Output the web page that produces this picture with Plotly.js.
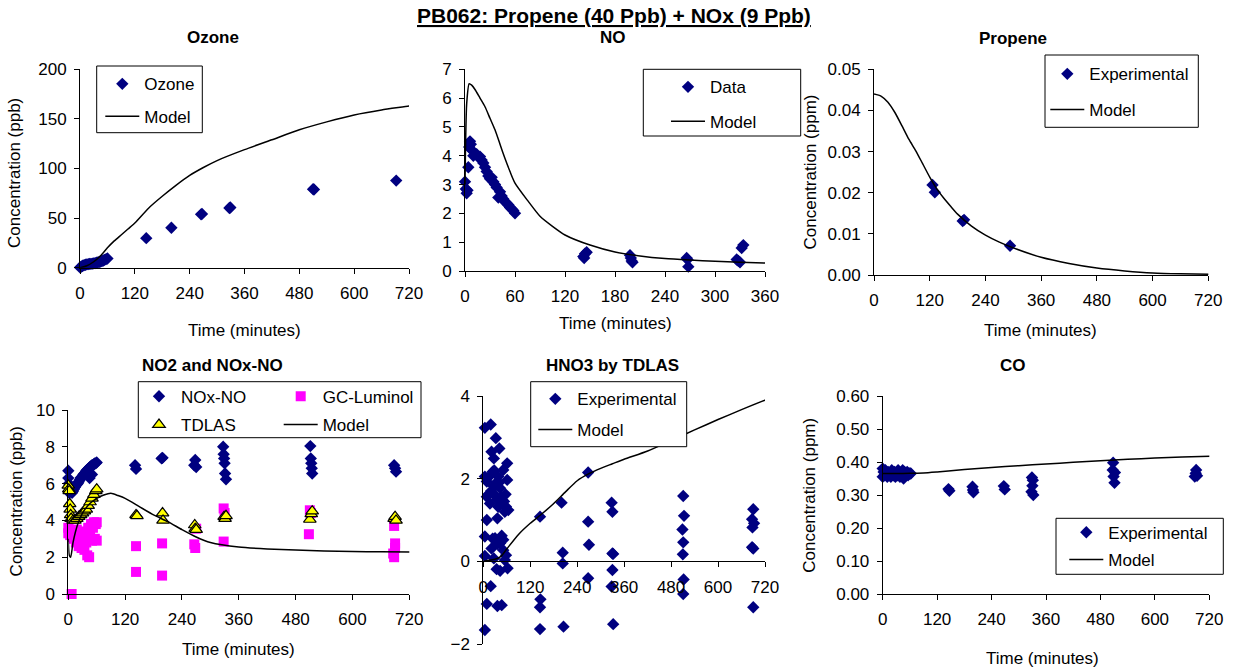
<!DOCTYPE html>
<html><head><meta charset="utf-8">
<script src="https://cdn.plot.ly/plotly-3.0.1.min.js"></script>
<style>html,body{margin:0;padding:0;background:#fff}#chart{width:1234px;height:671px}</style>
</head><body><div id="chart"></div>
<script>
// ---------------- DATA ----------------
const time720Ticks = [0,120,240,360,480,600,720];
const time360Ticks = [0,60,120,180,240,300,360];

// Ozone (ppb)
const ozoneTime  = [0,2,4,6,9,12,15,18,21,24,27,30,33,36,39,42,45,48,51,54,57,60,145,200,265,267,327,329,510,512,692];
const ozoneValue = [0.3,0.8,1.3,2.0,2.6,3.0,3.3,3.6,3.8,3.9,4.1,4.3,4.6,5.0,5.3,5.7,6.2,6.8,7.3,7.9,8.6,9.3,29.8,40.3,53.8,54.2,60.2,60.7,79.2,78.8,87.8];
const ozoneModelTime  = [0,15,30,45,60,75,90,105,120,150,180,210,240,270,300,360,420,480,540,600,660,720,732];
const ozoneModelValue = [0,2,6,12,20,27,33,39,45,60,72,83,93,101,108,119,129,139,147,154,159,163,164];

// NO (ppb)
const noTime  = [0,1,2,3,4,5,6,7,8,10,14,16,18,20,22,24,26,28,30,32,34,36,38,40,42,44,46,48,50,52,54,56,58,60,142,143,144,146,198,199,200,201,266,267,268,326,328,330,332,334];
const noValue = [3.1,2.85,2.7,2.8,3.6,4.3,4.5,4.4,4.2,4.0,4.05,3.95,3.97,3.85,3.75,3.6,3.45,3.3,3.2,3.25,3.1,3.0,2.9,2.55,2.75,2.6,2.5,2.4,2.35,2.3,2.2,2.15,2.1,2.0,0.5,0.45,0.6,0.65,0.55,0.45,0.35,0.3,0.45,0.4,0.15,0.4,0.35,0.3,0.8,0.9];
const noModelTime  = [0,2,5,8,12,18,24,30,36,42,48,54,60,75,90,105,120,150,180,210,240,270,300,330,366];
const noModelValue = [3.0,5.8,6.5,6.45,6.3,6.0,5.7,5.3,4.9,4.4,3.9,3.45,3.05,2.45,1.9,1.55,1.25,0.9,0.66,0.52,0.43,0.38,0.34,0.3,0.27];

// Propene (ppm)
const propeneTime  = [126,131,191,194,293];
const propeneValue = [0.0219,0.0201,0.0131,0.0134,0.0071];
const propeneModelTime  = [0,15,30,45,60,75,90,105,120,135,150,165,180,210,240,270,300,360,420,480,540,600,660,730];
const propeneModelValue = [0.0440,0.0435,0.0420,0.0395,0.0363,0.0330,0.0302,0.0270,0.0238,0.0210,0.0187,0.0167,0.0148,0.0119,0.0097,0.0080,0.0066,0.0043,0.0028,0.0017,0.0010,0.0005,0.0003,0.0002];

// NO2 and NOx-NO (ppb)
const noxNoTime  = [0,0,1,2,4,6,8,10,12,14,16,18,20,22,24,26,28,30,32,34,36,38,40,42,44,45,46,48,50,50,52,54,56,58,60,141,143,197,199,266,268,270,327,328,329,330,331,333,511,512,513,514,515,688,690,692];
const noxNoValue = [6.7,6.3,6.0,5.5,5.6,5.6,5.5,5.6,5.7,5.8,5.9,5.95,6.0,6.1,6.2,6.3,6.35,6.4,6.5,6.55,6.6,6.7,6.75,6.8,6.85,6.3,6.9,6.95,7.0,6.5,7.0,7.05,7.1,7.1,7.15,7.0,6.8,7.37,7.4,7.0,7.28,6.9,8.0,7.6,7.37,7.1,6.55,6.23,8.04,7.37,7.1,6.83,6.55,7.0,6.83,6.65];
const gcLumTime  = [0,0,2,4,6,7,8,10,12,14,16,18,20,22,24,26,28,30,32,34,36,38,40,42,44,46,48,50,52,54,56,58,60,60,143,143,198,198,266,268,270,328,330,328,508,510,512,686,688,688,690,690];
const gcLumValue = [3.6,3.3,3.5,3.2,3.4,0.0,3.1,3.3,3.0,3.2,2.8,3.5,3.0,2.6,3.3,2.9,2.5,3.4,2.7,2.4,3.1,2.8,2.1,3.6,2.0,3.3,3.8,2.9,3.6,3.9,3.0,3.8,3.9,2.9,2.6,1.2,2.75,1.0,2.7,2.5,3.55,4.65,4.4,2.85,3.25,4.55,4.4,2.2,3.7,2.0,2.75,2.5];
const tdlasTime  = [0,1,2,3,4,5,6,10,14,18,22,26,30,34,38,42,46,50,54,58,60,143,145,199,200,267,268,270,329,331,333,510,513,515,688,690,692];
const tdlasValue = [5.9,5.7,5.6,4.9,4.6,4.3,4.1,4.0,4.0,4.1,4.2,4.3,4.4,4.5,4.6,4.8,5.0,5.2,5.4,5.6,5.7,4.3,4.25,4.4,4.0,3.75,3.55,3.5,4.2,4.1,4.25,4.05,4.35,4.5,4.1,4.2,4.0];
const no2ModelTime  = [0,2,5,10,20,30,45,60,75,90,105,120,150,180,210,240,270,300,360,420,480,540,600,660,732];
const no2ModelValue = [3.0,2.1,2.0,2.8,3.8,4.4,4.9,5.2,5.38,5.47,5.35,5.2,4.75,4.3,3.93,3.5,3.1,2.8,2.55,2.45,2.39,2.34,2.31,2.29,2.28];

// HNO3 by TDLAS (ppb)
const hno3Time  = [4,19,32,41,21,27,4,9,24,38,51,61,61,9,17,30,43,38,49,55,64,36,9,4,30,43,51,21,4,27,51,34,43,55,62,19,9,36,47,4,13,26,33,46,57,28,40,15,53,35,20,24,36,47,58,58,
                   145,146,145,145,200,203,203,205,268,268,270,268,328,330,330,332,330,328,332,511,513,509,511,510,512,511,690,687,692,688,687,690,690];
const hno3Value = [3.23,3.31,2.98,2.73,2.65,2.49,2.05,1.93,2.17,2.05,2.21,2.37,1.97,1.56,1.4,1.6,1.77,1.32,1.48,1.2,1.24,1.04,1.0,0.6,0.56,0.44,0.52,0.31,0.13,0.07,0.27,-0.19,-0.23,0.03,-0.17,-0.6,-1.03,-1.08,-1.06,-1.66,1.62,1.82,1.9,1.55,1.62,2.2,1.9,2.05,1.45,1.5,1.7,0.55,0.42,0.62,1.32,0.15,
                   1.08,-0.92,-1.11,-1.64,1.42,0.21,-0.05,-1.58,2.15,0.96,0.4,-0.41,1.42,1.2,0.19,0.18,-0.21,-0.61,-1.52,1.58,1.1,0.77,0.46,0.17,-0.44,-0.79,1.26,1.02,0.92,0.82,0.34,0.31,-1.11];
const hno3ModelTime  = [0,30,45,60,90,120,150,180,210,240,270,300,330,360,420,480,540,600,660,720,735];
const hno3ModelValue = [0,0.05,0.12,0.3,0.65,0.92,1.15,1.4,1.68,1.95,2.12,2.25,2.36,2.47,2.67,2.92,3.18,3.43,3.67,3.9,3.95];

// CO (ppm)
const coTime  = [0,0,2,4,6,8,10,12,14,16,18,20,22,24,26,28,30,32,34,36,38,40,42,44,46,48,50,52,54,56,58,60,62,145,147,198,199,200,267,269,329,331,330,328,332,508,507,512,509,511,691,690,693,688];
const coValue = [0.38,0.355,0.37,0.36,0.375,0.365,0.355,0.37,0.36,0.365,0.355,0.375,0.365,0.36,0.37,0.355,0.365,0.36,0.375,0.37,0.355,0.365,0.36,0.375,0.35,0.37,0.36,0.365,0.37,0.36,0.365,0.365,0.365,0.318,0.313,0.325,0.315,0.308,0.327,0.317,0.353,0.345,0.328,0.31,0.3,0.398,0.376,0.368,0.356,0.337,0.376,0.366,0.358,0.356];
const coModelTime  = [0,30,60,90,120,180,240,300,360,420,480,540,600,660,735];
const coModelValue = [0.365,0.365,0.366,0.367,0.370,0.377,0.383,0.389,0.394,0.399,0.404,0.408,0.412,0.415,0.418];

// ---------------- LAYOUT HELPERS ----------------
const W = 1234, H = 671;
const FONT = 'Liberation Sans, Arial, sans-serif';
const NAVY = '#000080', MAGENTA = '#FF00FF', YELLOW = '#FFFF00';
const px = x => x / W, py = y => 1 - y / H;

function xAxis(x0, x1, range, ticks, anchor) {
  return {domain:[px(x0), px(x1)], range:range, tickmode:'array', tickvals:ticks, ticktext:ticks.map(String),
    showline:true, linecolor:'#000', linewidth:1, ticks:'outside', ticklen:5, tickcolor:'#000',
    showgrid:false, zeroline:false, automargin:false, fixedrange:true, anchor:anchor,
    ticklabelstandoff:5, tickfont:{family:FONT, size:17, color:'#000'}};
}
function yAxis(y0, y1, range, dtick, fmt, anchor) {
  return {domain:[py(y1), py(y0)], range:range, tick0:range[0], dtick:dtick, tickformat:fmt,
    showline:true, linecolor:'#000', linewidth:1, ticks:'outside', ticklen:5, tickcolor:'#000',
    showgrid:false, zeroline:false, automargin:false, fixedrange:true, anchor:anchor,
    ticklabelstandoff:4, tickfont:{family:FONT, size:17, color:'#000'}};
}
function legendAt(textX, rowY) {
  return {x:px(textX - 44), y:py(rowY), xanchor:'left', yanchor:'middle', bgcolor:'rgba(0,0,0,0)',
    borderwidth:0, itemwidth:34, font:{family:FONT, size:17, color:'#000'}};
}
function pts(x, y, xa, ya, name, leg, marker) {
  return {type:'scatter', mode:'markers', x:x, y:y, xaxis:xa, yaxis:ya, name:name, legend:leg,
    showlegend:true, cliponaxis:false, marker:marker, hoverinfo:'x+y'};
}
function model(x, y, xa, ya, leg) {
  return {type:'scatter', mode:'lines', x:x, y:y, xaxis:xa, yaxis:ya, name:'Model', legend:leg,
    showlegend:true, cliponaxis:false, line:{color:'#000', width:1.5, shape:'spline', smoothing:0.6}, hoverinfo:'x+y'};
}
const diamond = {symbol:'diamond', size:9.5, color:NAVY, line:{width:0}};
const square = {symbol:'square', size:10, color:MAGENTA, line:{width:0}};
const triangle = {symbol:'triangle-up', size:11, color:YELLOW, line:{width:1.2, color:'#000'}};

const traces = [
  pts(ozoneTime, ozoneValue, 'x', 'y', 'Ozone', 'legend', diamond),
  model(ozoneModelTime, ozoneModelValue, 'x', 'y', 'legend2'),
  pts(noTime, noValue, 'x2', 'y2', 'Data', 'legend3', diamond),
  model(noModelTime, noModelValue, 'x2', 'y2', 'legend4'),
  pts(propeneTime, propeneValue, 'x3', 'y3', 'Experimental', 'legend5', diamond),
  model(propeneModelTime, propeneModelValue, 'x3', 'y3', 'legend6'),
  pts(noxNoTime, noxNoValue, 'x4', 'y4', 'NOx-NO', 'legend7', diamond),
  pts(gcLumTime, gcLumValue, 'x4', 'y4', 'GC-Luminol', 'legend8', square),
  pts(tdlasTime, tdlasValue, 'x4', 'y4', 'TDLAS', 'legend9', triangle),
  model(no2ModelTime, no2ModelValue, 'x4', 'y4', 'legend10'),
  pts(hno3Time, hno3Value, 'x5', 'y5', 'Experimental', 'legend11', diamond),
  model(hno3ModelTime, hno3ModelValue, 'x5', 'y5', 'legend12'),
  pts(coTime, coValue, 'x6', 'y6', 'Experimental', 'legend13', diamond),
  model(coModelTime, coModelValue, 'x6', 'y6', 'legend14')
];

// HNO3 panel: x axis crosses at y = 0
const y5 = yAxis(396, 644, [-2, 4], 2, 'd', 'x5');
const x5 = xAxis(483.3, 765, [0, 720], time720Ticks, 'free');
x5.position = y5.domain[0] + (y5.domain[1] - y5.domain[0]) * (0 - y5.range[0]) / (y5.range[1] - y5.range[0]);

function ann(text, x, y, size, angle) {
  return {text:text, x:px(x), y:py(y), xref:'paper', yref:'paper', xanchor:'center', yanchor:'middle',
    showarrow:false, textangle:angle || 0, font:{family:FONT, size:size, color:'#000'}};
}
function box(x0, y0, x1, y1) {
  return {type:'rect', xref:'paper', yref:'paper', x0:px(x0), x1:px(x1), y0:py(y1), y1:py(y0),
    line:{color:'#000', width:1}, fillcolor:'#fff', layer:'above'};
}

const layout = {
  width:W, height:H, margin:{l:0, r:0, t:0, b:0, autoexpand:false},
  paper_bgcolor:'#fff', plot_bgcolor:'#fff', font:{family:FONT, size:17, color:'#000'},
  showlegend:true, hovermode:'closest',
  xaxis:  xAxis(80, 409, [0, 720], time720Ticks, 'y'),
  yaxis:  yAxis(69.3, 267.7, [0, 200], 50, 'd', 'x'),
  xaxis2: xAxis(465, 765, [0, 360], time360Ticks, 'y2'),
  yaxis2: yAxis(69.3, 271, [0, 7], 1, 'd', 'x2'),
  xaxis3: xAxis(874, 1208.3, [0, 720], time720Ticks, 'y3'),
  yaxis3: yAxis(69.3, 275, [0, 0.05], 0.01, '.2f', 'x3'),
  xaxis4: xAxis(68.3, 409.3, [0, 720], time720Ticks, 'y4'),
  yaxis4: yAxis(410, 594, [0, 10], 2, 'd', 'x4'),
  xaxis5: x5,
  yaxis5: y5,
  xaxis6: xAxis(882.7, 1209.3, [0, 720], time720Ticks, 'y6'),
  yaxis6: yAxis(396, 594, [0, 0.6], 0.1, '.2f', 'x6'),
  legend:   legendAt(144.3, 84.3),
  legend2:  legendAt(144.3, 116.7),
  legend3:  legendAt(710, 87.3),
  legend4:  legendAt(710, 121.7),
  legend5:  legendAt(1089.3, 74.3),
  legend6:  legendAt(1089.3, 110),
  legend7:  legendAt(181, 396.7),
  legend8:  legendAt(322.7, 396.7),
  legend9:  legendAt(181, 425),
  legend10: legendAt(322.7, 425),
  legend11: legendAt(577.3, 399.3),
  legend12: legendAt(577.3, 430),
  legend13: legendAt(1108.3, 532.7),
  legend14: legendAt(1108.3, 560),
  shapes: [
    box(96.7, 66, 202.3, 132.7),
    box(643.3, 69.3, 800.7, 136),
    box(1045, 55, 1198.3, 127.3),
    box(138.3, 381.7, 421, 437.7),
    box(530.7, 381.7, 686.7, 446.7),
    box(1056, 518.3, 1223.3, 574.3)
  ],
  annotations: [
    ann('<b><u>PB062: Propene (40 Ppb) + NOx (9 Ppb)</u></b>', 614, 16, 21),
    ann('<b>Ozone</b>', 212.7, 37.7, 17),
    ann('<b>NO</b>', 612.7, 37.7, 17),
    ann('<b>Propene</b>', 1012.8, 38.3, 17),
    ann('<b>NO2 and NOx-NO</b>', 212.2, 365, 17),
    ann('<b>HNO3 by TDLAS</b>', 612.8, 365, 17),
    ann('<b>CO</b>', 1012.5, 365, 17),
    ann('Concentration (ppb)', 14, 173, 17, -90),
    ann('Time (minutes)', 244, 330, 17),
    ann('Time (minutes)', 615.8, 323.3, 17),
    ann('Concentration (ppm)', 810, 172.5, 17, -90),
    ann('Time (minutes)', 1040.5, 330, 17),
    ann('Concentration (ppb)', 16.7, 501.7, 17, -90),
    ann('Time (minutes)', 238, 649.3, 17),
    ann('Concentration (ppm)', 810, 495.8, 17, -90),
    ann('Time (minutes)', 1042.5, 658.3, 17)
  ]
};

Plotly.newPlot('chart', traces, layout, {displayModeBar:false, staticPlot:false, responsive:false});
</script></body></html>
